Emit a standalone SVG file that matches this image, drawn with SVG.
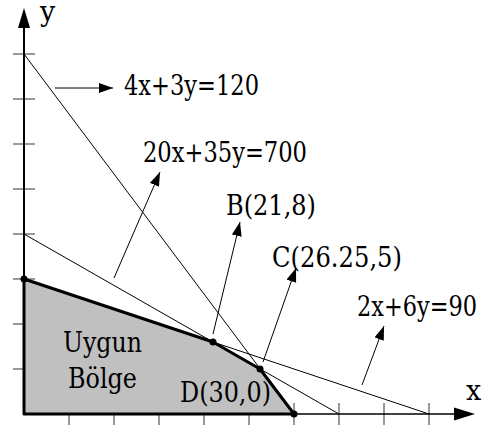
<svg xmlns="http://www.w3.org/2000/svg" width="485" height="427" viewBox="0 0 485 427">
<style>
.tick{stroke:#333;stroke-width:1}
.thin{stroke:#000;stroke-width:1;fill:none}
.lbl{stroke:#000;stroke-width:1;fill:none;marker-end:url(#ah)}
.dot{fill:#000}
.t{font-family:'DejaVu Serif','Liberation Serif',serif;font-size:27px;fill:#000}
</style>
<defs>
<marker id="ah" markerUnits="userSpaceOnUse" markerWidth="15" markerHeight="11" refX="14" refY="5" orient="auto">
<path d="M0,0 L14,5 L0,10 z" fill="#000"/>
</marker>
</defs>
<rect width="485" height="427" fill="#fff"/>
<g id="ticks">
<line class="tick" x1="13" y1="54" x2="35" y2="54"/>
<line class="tick" x1="13" y1="99" x2="35" y2="99"/>
<line class="tick" x1="13" y1="144" x2="35" y2="144"/>
<line class="tick" x1="13" y1="189" x2="35" y2="189"/>
<line class="tick" x1="13" y1="234" x2="35" y2="234"/>
<line class="tick" x1="13" y1="279" x2="35" y2="279"/>
<line class="tick" x1="13" y1="324" x2="35" y2="324"/>
<line class="tick" x1="13" y1="369" x2="35" y2="369"/>
<line class="tick" x1="69" y1="403" x2="69" y2="425"/>
<line class="tick" x1="114" y1="403" x2="114" y2="425"/>
<line class="tick" x1="159" y1="403" x2="159" y2="425"/>
<line class="tick" x1="204" y1="403" x2="204" y2="425"/>
<line class="tick" x1="249" y1="403" x2="249" y2="425"/>
<line class="tick" x1="294" y1="403" x2="294" y2="425"/>
<line class="tick" x1="339" y1="403" x2="339" y2="425"/>
<line class="tick" x1="384" y1="403" x2="384" y2="425"/>
<line class="tick" x1="429" y1="403" x2="429" y2="425"/>
</g>
<g id="region">
<polygon points="24,279 213,342 260,369 294,414 24,414" fill="#c0c0c0" stroke="#000" stroke-width="3" stroke-linejoin="round"/>
<text class="t" x="63" y="352" textLength="79" lengthAdjust="spacingAndGlyphs">Uygun</text>
<text class="t" x="68" y="388" textLength="69" lengthAdjust="spacingAndGlyphs">Bölge</text>
</g>
<g id="axes">
<line x1="24" y1="415" x2="24" y2="26" stroke="#000" stroke-width="2"/>
<polygon points="24,8 18,28 30,28" fill="#000"/>
<text class="t" x="40" y="21">y</text>
<line x1="24" y1="414" x2="456" y2="414" stroke="#000" stroke-width="1.5"/>
<polygon points="475,414 454,407.5 454,420.5" fill="#000"/>
<text class="t" x="466" y="400">x</text>
</g>
<g id="constraint-lines">
<line class="thin" x1="24" y1="54" x2="294" y2="414"/>
<line class="thin" x1="24" y1="234" x2="339" y2="414"/>
<line class="thin" x1="24" y1="279" x2="429" y2="414"/>
</g>
<g id="points">
<circle class="dot" cx="24" cy="279" r="3.5"/>
<circle class="dot" cx="213" cy="342" r="3.5"/>
<circle class="dot" cx="260" cy="369" r="3.5"/>
<circle class="dot" cx="294" cy="414" r="3.5"/>
</g>
<g id="connectors">
<line class="lbl" x1="55" y1="88" x2="113" y2="88"/>
<line class="lbl" x1="114" y1="278" x2="160" y2="172"/>
<line class="lbl" x1="213" y1="334" x2="240" y2="222"/>
<line class="lbl" x1="263" y1="362" x2="296" y2="268"/>
<line class="lbl" x1="362" y1="385" x2="384" y2="326"/>
</g>
<g id="labels">
<text class="t" x="124" y="95" textLength="135" lengthAdjust="spacingAndGlyphs">4x+3y=120</text>
<text class="t" x="143" y="162" textLength="164" lengthAdjust="spacingAndGlyphs">20x+35y=700</text>
<text class="t" x="226" y="215" textLength="90" lengthAdjust="spacingAndGlyphs">B(21,8)</text>
<text class="t" x="272" y="267" textLength="130" lengthAdjust="spacingAndGlyphs">C(26.25,5)</text>
<text class="t" x="357" y="316" textLength="120" lengthAdjust="spacingAndGlyphs">2x+6y=90</text>
<text class="t" x="180" y="402" textLength="91" lengthAdjust="spacingAndGlyphs">D(30,0)</text>
</g>
</svg>
